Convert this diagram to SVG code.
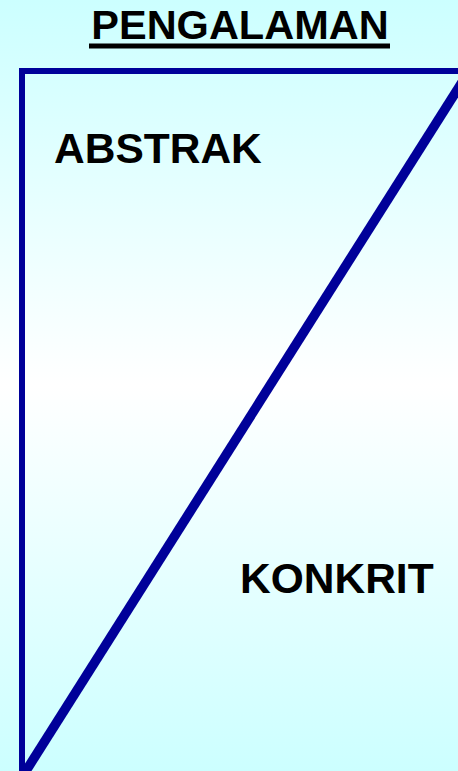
<svg xmlns="http://www.w3.org/2000/svg" width="458" height="771" viewBox="0 0 458 771">
<defs>
<linearGradient id="bg" x1="0" y1="0" x2="0" y2="1">
<stop offset="0" stop-color="#ccffff"/>
<stop offset="0.5" stop-color="#ffffff"/>
<stop offset="1" stop-color="#ccffff"/>
</linearGradient>
<style>
.t{font-family:"Liberation Sans",Arial,sans-serif;font-weight:bold;font-size:42.5px;fill:#000}
.ln{stroke:#000099;fill:none}
</style>
</defs>
<rect width="458" height="771" fill="url(#bg)"/>
<g id="title">
<text class="t" x="240" y="39" text-anchor="middle" style="font-size:41.5px">PENGALAMAN</text>
<rect x="89" y="43.5" width="301" height="5" fill="#000"/>
</g>
<g id="connectors">
<polyline class="ln" stroke-width="6" points="458,71 22,71 22,771"/>
<line class="ln" stroke-width="9.5" x1="24" y1="774" x2="471" y2="68"/>
</g>
<g id="abstrak"><text class="t" x="54" y="163">ABSTRAK</text></g>
<g id="konkrit"><text class="t" x="240" y="593">KONKRIT</text></g>
</svg>
